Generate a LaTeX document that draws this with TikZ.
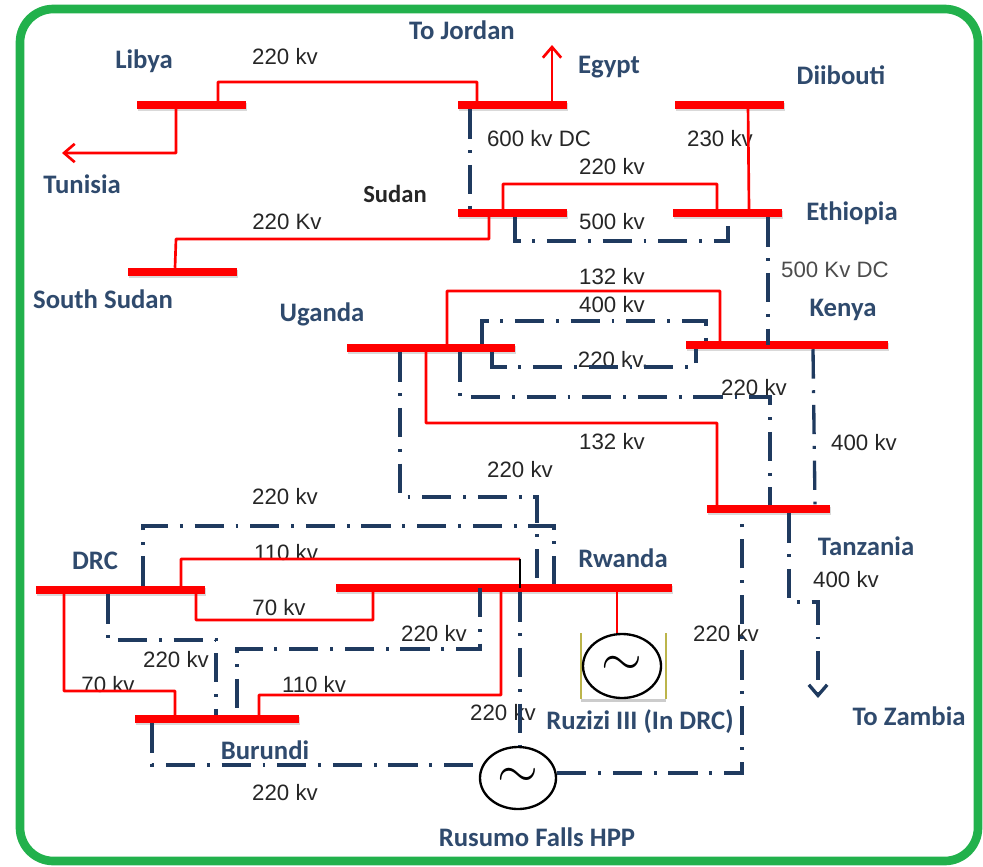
\documentclass[tikz,border=0pt]{standalone}
\usepackage{fontspec}
\setmainfont{Liberation Sans}
\newfontfamily\placefont{Carlito}
\usetikzlibrary{shapes.geometric,shadows,arrows.meta}
\definecolor{navyline}{HTML}{1F3A5F}
\definecolor{placeblue}{HTML}{2F4A6D}
\definecolor{framegreen}{HTML}{22B14C}
\tikzset{
  busbar/.style={fill=red,minimum width=#1*.03cm,minimum height=.24cm,inner sep=0pt,
    drop shadow={shadow xshift=.5pt,shadow yshift=-1.5pt,opacity=.3}},
  acline/.style={draw=red,line width=.08cm,rounded corners=.5pt},
  dcline/.style={draw=navyline,line width=.1cm,
    dash pattern=on 25pt off 10pt on 2.5pt off 10pt},
  volt/.style={font=\fontsize{19}{21}\selectfont,text=black!85,inner sep=0pt},
  place/.style={font=\placefont\bfseries\fontsize{22.8}{25}\selectfont,text=placeblue,inner sep=0pt},
  gen/.style={ellipse,draw=black,line width=.07cm,fill=white,inner sep=0pt,
    font=\fontsize{24.88}{26}\selectfont},
  barb/.style={-{Straight Barb[length=.32cm,width=.55cm]}}
}
\begin{document}
\begin{tikzpicture}[x=.03cm,y=-.03cm]
\useasboundingbox (0,0) rectangle (983,866);
\draw [framegreen,line width=.26cm,rounded corners=1cm] (20,9) rectangle (978,861);

% labels first, some lines run over them
\node [place] (jordanlbl) at (462,30) {To Jordan};
\node [place] (libyalbl) at (144,61) {Libya};
\node [place] (egyptlbl) at (609,67) {Egypt};
\node [place] (diiboutilbl) at (841,75) {Diibouti};
\node [place] (tunisialbl) at (82,184) {Tunisia};
\node [place,text=black!85,font=\placefont\bfseries\fontsize{21}{23}\selectfont] (sudanlbl) at (395,194) {Sudan};
\node [place] (ethiopialbl) at (852,213) {Ethiopia};
\node [place] (ssudanlbl) at (103,299) {South Sudan};
\node [place] (ugandalbl) at (322,314) {Uganda};
\node [place] (kenyalbl) at (843,310) {Kenya};
\node [place] (tanzanialbl) at (866,546) {Tanzania};
\node [place] (drclbl) at (95,561) {DRC};
\node [place] (rwandalbl) at (623,558) {Rwanda};
\node [place] (zambialbl) at (909,716) {To Zambia};
\node [place] (ruzizilbl) at (640,722) {Ruzizi III (In DRC)};
\node [place] (burundilbl) at (265,750) {Burundi};
\node [place] (rusumolbl) at (537,837) {Rusumo Falls HPP};

\node [volt] (v1) at (285,57) {220 kv};
\node [volt] (v2) at (539,139) {600 kv DC};
\node [volt] (v3) at (720,139) {230 kv};
\node [volt] (v4) at (612,167) {220 kv};
\node [volt] (v5) at (287,222) {220 Kv};
\node [volt] (v6) at (612,222) {500 kv};
\node [volt,text=black!70] (v7) at (835,270) {500 Kv DC};
\node [volt] (v8) at (612,277) {132 kv};
\node [volt] (v9) at (612,305) {400 kv};
\node [volt] (v10) at (613,360) {220 kv.};
\node [volt] (v11) at (754,388) {220 kv};
\node [volt] (v12) at (612,442) {132 kv};
\node [volt] (v13) at (864,443) {400 kv};
\node [volt] (v14) at (520,470) {220 kv};
\node [volt] (v15) at (285,497) {220 kv};
\node [volt] (v16) at (286,553) {110 kv};
\node [volt] (v17) at (846,580) {400 kv};
\node [volt] (v18) at (279,608) {70 kv};
\node [volt] (v19) at (434,634) {220 kv};
\node [volt] (v20) at (726,634) {220 kv};
\node [volt] (v21) at (176,660) {220 kv};
\node [volt] (v22) at (108,685) {70 kv};
\node [volt] (v23) at (314,685) {110 kv};
\node [volt] (v24) at (503,713) {220 kv};
\node [volt] (v25) at (285,793) {220 kv};

% bus bars
\node [busbar=109] (libya) at (191.5,105) {};
\node [busbar=109] (egypt) at (512.5,105) {};
\node [busbar=109] (djibouti) at (729.5,105) {};
\node [busbar=109] (sudan) at (512.5,213) {};
\node [busbar=109] (ethiopia) at (727.5,213) {};
\node [busbar=109] (ssudan) at (182.5,272) {};
\node [busbar=168] (uganda) at (431,348) {};
\node [busbar=202] (kenya) at (787,345) {};
\node [busbar=123] (tanzania) at (768.5,509) {};
\node [busbar=169] (drc) at (120.5,590) {};
\node [busbar=336] (rwanda) at (504,588) {};
\node [busbar=164] (burundi) at (217,719) {};

% generators
\node [fill=white,minimum width=2.55cm,minimum height=1.95cm,inner sep=0pt,
  drop shadow={shadow xshift=0pt,shadow yshift=-3pt,opacity=.4}] (ruzizibox) at (623.5,666) {};
\draw [olive!60,line width=.05cm] (ruzizibox.north west) -- (ruzizibox.south west);
\draw [olive!60,line width=.05cm] (ruzizibox.north east) -- (ruzizibox.south east);
\node [gen,minimum width=2.34cm,minimum height=1.92cm] (ruzizi) at (622,666) {\scalebox{1.8}{$\sim$}};
\node [gen,minimum width=2.28cm,minimum height=1.86cm] (rusumo) at (518,778) {\scalebox{1.8}{$\sim$}};
\coordinate (tunisia) at (62,153);
\coordinate (jordan) at (552,45);
\coordinate (zambia) at (818,698);

% AC lines
\draw [acline] (218,0 |- libya.north) -- (218,82) -- (477,82) -- (477,0 |- egypt.north);
\draw [acline,barb] (176,0 |- libya.south) -- (176,153) -- (tunisia);
\draw [acline,barb] (552,0 |- egypt.north) -- (jordan);
\draw [acline] (748,0 |- djibouti.center) -- (749,0 |- ethiopia.north);
\draw [acline] (503,0 |- sudan.north) -- (503,184) -- (717,184) -- (717,0 |- ethiopia.north);
\draw [acline] (489,0 |- sudan.south) -- (489,239) -- (176,239) -- (175,0 |- ssudan.north);
\draw [acline] (447,0 |- uganda.north) -- (447,291) -- (720,291) -- (720,0 |- kenya.north);
\draw [acline] (426,0 |- uganda.south) -- (426,423) -- (717,423) -- (717,0 |- tanzania.north);
\draw [acline] (181,0 |- drc.north) -- (181,559) -- (520,559);
\draw [black,line width=.08cm] (520,559) -- (520,0 |- rwanda.center);
\draw [acline] (196,0 |- drc.south) -- (196,620) -- (373,620) -- (373,0 |- rwanda.south);
\draw [acline] (64,0 |- drc.south) -- (64,691) -- (175,691) -- (175,0 |- burundi.north);
\draw [acline] (501,0 |- rwanda.south) -- (501,695) -- (259,695) -- (259,0 |- burundi.north);
\draw [acline] (617,0 |- rwanda.south) -- (617,0 |- ruzizi.north);

% DC lines, dash-dotted
\draw [dcline] (470,0 |- egypt.south) -- (470,0 |- sudan.north);
\draw [dcline] (515,0 |- sudan.south) -- (515,241) -- (728,241) -- (728,0 |- ethiopia.south);
\draw [dcline] (768,0 |- ethiopia.south) -- (768,0 |- kenya.center);
\draw [dcline] (482,0 |- uganda.north) -- (482,321) -- (706,321) -- (706,0 |- kenya.center);
\draw [dcline] (492,0 |- uganda.south) -- (492,367) -- (696,367) -- (696,0 |- kenya.south);
\draw [dcline] (460,0 |- uganda.south) -- (460,397) -- (770,397) -- (770,0 |- tanzania.north);
\draw [dcline] (813,0 |- kenya.south) -- (815,0 |- tanzania.north);
\draw [dcline] (400,0 |- uganda.south) -- (400,497) -- (537,497) -- (537,0 |- rwanda.north);
\draw [dcline] (143,0 |- drc.north) -- (143,526) -- (554,526) -- (554,0 |- rwanda.north);
\draw [dcline] (108,0 |- drc.south) -- (108,640) -- (216,640) -- (216,0 |- burundi.north);
\draw [dcline] (480,0 |- rwanda.center) -- (480,649) -- (237,649) -- (237,0 |- burundi.north);
\draw [dcline] (520,0 |- rwanda.south) -- (520,0 |- rusumo.north);
\draw [dcline] (152,0 |- burundi.south) -- (152,765) -- (480,765);
\draw [dcline] (rusumo.east |- 0,773) -- (742,773) -- (742,0 |- tanzania.south);
\draw [dcline,barb] (789,0 |- tanzania.south) -- (789,602) -- (818,602) -- (zambia);
\end{tikzpicture}
\end{document}
